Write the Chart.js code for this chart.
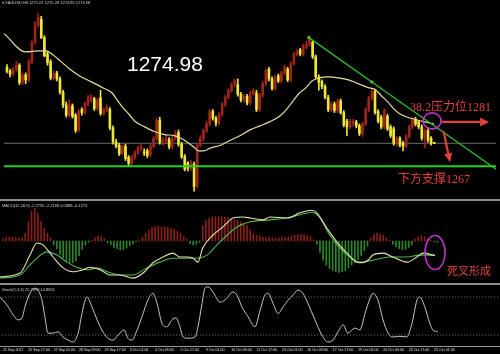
<!DOCTYPE html>
<html><head><meta charset="utf-8">
<script src="https://cdn.jsdelivr.net/npm/chart.js@4.4.0/dist/chart.umd.min.js"></script>
<style>
html,body{margin:0;padding:0;background:#000;width:500px;height:354px;overflow:hidden;position:relative;}
.pane{position:absolute;left:0;width:500px;}
canvas{display:block;}
.sep{position:absolute;left:0;width:500px;height:2px;background:#8c8c8c;}
.t{position:absolute;white-space:nowrap;line-height:1;}
.hdr{font-family:"Liberation Sans",Arial,sans-serif;font-size:4px;color:#d0d0d0;}
.cn{font-family:"Liberation Serif","Noto Sans CJK SC",serif;color:#e4433f;}
</style></head><body>
<div class="pane" style="top:0;height:199px"><canvas id="main" width="500" height="199"></canvas></div>
<div class="sep" style="top:199px"></div>
<div class="pane" style="top:201px;height:82px"><canvas id="macd" width="500" height="82"></canvas></div>
<div class="sep" style="top:283px"></div>
<div class="pane" style="top:285px;height:69px"><canvas id="stoch" width="500" height="69"></canvas></div>

<div class="t hdr" style="left:2px;top:1px">▾ XAUUSD,H4 1275.07 1275.28 1274.85 1274.98</div>
<div class="t hdr" style="left:2px;top:204px">MACD(12,26,9) -2.2755 -2.2168 0.0888 -0.1273</div>
<div class="t hdr" style="left:2px;top:288px">Stoch(5,3,3) 22.7599 14.8651</div>
<div class="t" style="left:127px;top:53px;font-family:'Liberation Sans',Arial,sans-serif;font-size:21px;color:#fff">1274.98</div>
<div class="t cn" style="left:410px;top:101px;font-size:12px">38.2压力位1281</div>
<div class="t cn" style="left:398px;top:173px;font-size:12px">下方支撑1267</div>
<div class="t cn" style="left:447px;top:266px;font-size:11px">死叉形成</div>

<script>
// ---------- DATA ----------
const open = [
1297.8,1296.6,1295.8,1297.2,1298.4,1293.2,1295.5,1294.0,1299.5,1305.3,
1310.5,1312.2,1306.7,1301.8,1299.5,1294.6,1296.1,1294.3,1290.3,1286.5,
1283.4,1286.2,1283.4,1279.0,1285.1,1284.2,1286.8,1288.0,1288.3,1285.4,
1288.6,1283.9,1285.1,1285.1,1279.6,1275.3,1274.4,1272.1,1274.1,1270.7,
1269.0,1270.7,1272.1,1273.3,1272.4,1272.7,1271.6,1274.1,1276.5,1281.9,
1275.3,1275.6,1276.2,1273.9,1276.5,1278.2,1274.7,1271.0,1269.0,1267.5,
1268.7,1262.3,1274.4,1276.5,1278.8,1280.8,1284.5,1282.5,1281.1,1283.7,
1286.5,1288.8,1290.9,1292.6,1292.6,1289.7,1288.0,1289.1,1287.1,1290.0,
1290.0,1285.1,1289.4,1292.9,1297.2,1294.3,1291.4,1295.2,1293.7,1296.1,
1297.2,1294.0,1298.9,1301.8,1303.0,1301.8,1303.8,1304.7,1305.3,1301.0,
1294.9,1293.5,1292.0,1288.8,1285.1,1286.8,1284.8,1287.7,1284.2,1281.6,
1279.9,1280.8,1281.4,1280.2,1277.9,1280.8,1285.1,1288.6,1290.6,1284.5,
1282.8,1279.9,1283.1,1279.9,1279.3,1275.0,1276.5,1275.0,1274.1,1277.0,
1279.9,1282.2,1281.4,1279.9,1276.5,1278.8,1276.5,1275.07];
const high = [
1298.6,1297.2,1297.8,1299.5,1298.9,1296.1,1296.1,1300.1,1305.8,1311.6,
1313.9,1313.1,1307.3,1302.4,1300.1,1296.6,1296.6,1294.9,1290.9,1287.4,
1288.0,1286.8,1283.9,1285.1,1285.7,1287.4,1289.4,1289.7,1288.8,1288.6,
1290.9,1285.7,1286.5,1285.7,1280.2,1276.2,1275.0,1274.4,1274.7,1271.3,
1271.3,1272.7,1274.1,1274.7,1273.3,1273.3,1274.7,1277.0,1282.5,1282.8,
1276.7,1277.3,1276.7,1277.0,1278.8,1279.0,1275.3,1271.6,1269.5,1269.8,
1269.3,1275.0,1277.3,1279.3,1281.6,1285.1,1285.1,1283.1,1284.2,1287.1,
1289.4,1291.4,1293.2,1294.3,1294.3,1290.3,1289.7,1289.7,1290.6,1291.4,
1290.9,1290.0,1293.5,1297.2,1297.8,1294.9,1295.5,1295.8,1296.6,1298.4,
1297.8,1299.5,1302.4,1303.3,1303.5,1304.7,1305.6,1307.3,1305.8,1301.5,
1295.5,1294.0,1292.6,1289.4,1287.4,1287.4,1288.3,1288.3,1284.8,1282.2,
1282.2,1282.2,1281.9,1280.8,1281.4,1285.7,1289.1,1291.2,1291.2,1285.1,
1283.4,1285.4,1283.7,1280.5,1279.9,1277.0,1277.0,1275.6,1277.6,1280.5,
1282.8,1282.8,1281.9,1280.5,1279.3,1279.3,1277.0,1275.28];
const low = [
1296.1,1294.9,1295.2,1296.6,1292.6,1292.6,1292.9,1293.5,1298.9,1304.7,
1309.9,1306.4,1301.0,1298.4,1294.0,1294.0,1293.7,1289.7,1285.7,1282.8,
1282.8,1282.5,1278.2,1278.5,1283.4,1283.7,1286.2,1287.4,1284.8,1284.8,
1283.4,1283.4,1284.5,1279.0,1274.7,1273.6,1271.3,1271.6,1269.8,1268.1,
1268.4,1270.1,1271.6,1272.7,1271.3,1270.7,1271.0,1273.6,1275.9,1274.7,
1274.4,1275.0,1273.3,1273.3,1275.9,1274.1,1270.4,1266.7,1266.7,1266.9,
1260.6,1261.5,1273.9,1275.6,1278.2,1280.2,1281.9,1280.2,1280.5,1283.1,
1286.0,1288.3,1290.3,1292.0,1289.1,1287.4,1287.4,1286.5,1286.5,1289.4,
1284.5,1284.5,1288.8,1292.3,1293.7,1290.9,1290.9,1293.2,1293.2,1295.5,
1293.5,1293.5,1298.4,1301.2,1301.2,1301.2,1303.3,1304.1,1300.4,1294.3,
1290.9,1291.4,1288.3,1284.5,1284.5,1284.2,1284.2,1283.7,1279.9,1277.3,
1279.3,1280.2,1279.6,1277.3,1277.0,1280.2,1284.5,1288.0,1283.7,1281.1,
1279.3,1279.3,1278.8,1276.7,1274.4,1274.1,1273.9,1272.7,1273.6,1276.5,
1279.3,1280.2,1279.3,1275.9,1273.6,1275.3,1274.4,1274.85];
const close = [
1296.6,1295.8,1297.2,1298.4,1293.2,1295.5,1294.0,1299.5,1305.3,1310.5,
1312.8,1306.7,1301.2,1299.2,1294.6,1295.8,1294.3,1290.3,1286.5,1283.4,
1286.8,1283.1,1278.8,1284.5,1284.2,1286.8,1288.6,1288.8,1285.4,1288.0,
1283.9,1285.1,1285.7,1279.6,1275.3,1274.1,1271.8,1273.9,1270.4,1269.0,
1270.7,1272.1,1273.6,1273.9,1272.1,1271.3,1274.1,1276.5,1281.9,1275.3,
1275.9,1276.2,1273.9,1276.5,1277.9,1274.7,1271.0,1267.2,1267.5,1269.0,
1262.0,1274.4,1276.5,1278.8,1280.8,1284.5,1282.5,1281.1,1283.7,1286.5,
1288.8,1290.9,1292.6,1293.7,1289.7,1288.0,1289.1,1287.1,1290.0,1290.9,
1285.1,1289.4,1292.9,1296.6,1294.3,1291.4,1294.9,1293.7,1296.1,1297.8,
1294.0,1298.9,1301.8,1302.4,1301.8,1304.1,1304.7,1306.4,1301.0,1294.9,
1293.2,1292.0,1288.8,1285.1,1286.8,1284.8,1287.7,1284.2,1280.5,1279.9,
1281.6,1281.6,1280.2,1277.9,1280.8,1285.1,1288.6,1290.3,1284.2,1281.6,
1279.9,1284.8,1279.3,1277.3,1275.0,1276.5,1274.4,1274.1,1277.0,1279.9,
1281.9,1280.8,1279.9,1276.5,1278.8,1275.9,1275.0,1274.98];

// moving average
const maIdx = [-0.9,6.0,10.1,12.6,14.8,17.0,20.2,23.3,26.5,30.6,33.8,35.3,36.9,39.1,41.0,44.2,47.3,50.5,53.6,55.8,57.4,59.6,61.5,63.1,65.3,68.5,71.6,74.8,77.9,81.1,84.2,87.4,89.6,91.5,93.7,95.9,97.8,100.0,103.2,106.3,109.5,112.6,115.8,118.0,119.9,122.1,124.3,126.2,128.4,130.6,133.8,136.9];
const maVal = [1307.9,1302.4,1302.7,1302.7,1301.5,1299.8,1297.2,1295.2,1293.7,1291.7,1290.0,1288.0,1286.0,1283.7,1281.6,1279.9,1278.5,1277.6,1277.3,1276.5,1275.6,1274.1,1272.7,1272.7,1273.6,1274.4,1275.9,1277.3,1279.0,1280.2,1281.4,1283.1,1285.1,1287.4,1290.0,1291.7,1293.7,1294.6,1294.9,1294.6,1294.0,1292.9,1291.7,1291.2,1289.4,1287.4,1285.1,1283.7,1282.8,1282.2,1281.4,1280.8];

// levels and trend line
const lastPrice = 1274.98;
const supportLevel = 1268.1;
const trendIdx = [96.8, 117, 156.8];
const trendVal = [1306.7, 1293.4, 1267.2];

// MACD
const hist = [
0.3,0.5,0.6,0.6,0.5,0.4,0.5,1.2,3.0,4.6,
5.1,4.4,3.0,2.0,1.2,0.5,-0.6,-1.2,-2.1,-2.6,
-3.2,-3.4,-3.4,-3.1,-2.3,-1.3,-0.6,-0.2,0.1,0.5,
0.8,0.8,0.4,-0.3,-0.6,-1.0,-1.2,-1.4,-1.3,-1.1,
-0.7,-0.4,-0.1,0.2,0.6,1.2,1.7,2.1,2.2,2.3,
2.2,2.2,2.1,2.0,1.8,1.5,1.2,0.7,0.3,-0.4,
-0.6,-0.5,-0.2,2.4,3.2,3.5,3.7,3.8,3.8,3.75,
3.7,3.6,3.4,3.3,3.2,3.0,2.8,2.5,1.8,1.1,
0.9,0.8,0.6,0.5,0.6,0.5,0.4,0.5,0.6,0.5,
0.6,0.8,0.9,1.0,1.0,1.0,0.9,0.7,0.2,-0.5,
-1.8,-3.0,-3.8,-4.3,-4.6,-4.8,-4.9,-4.8,-4.6,-4.2,
-3.8,-3.4,-2.9,-2.3,-1.5,-0.8,0.5,1.0,1.25,1.1,
0.9,0.5,0.1,-0.5,-0.9,-1.2,-1.4,-1.3,-1.0,-0.6,
0.3,0.6,0.8,0.7,0.4,0.1,-0.1,-0.2];
const difIdx = [-0.9,5.4,8.5,10.7,12.6,15.8,19,22,25.2,27.4,30.6,33.8,36.9,41,44.2,47.3,50.5,53.6,55.8,58,60,61.5,63,66.2,69.4,72.6,75.7,78,82,84.2,89.6,93.7,97.5,99,102.2,105.4,108.5,111.7,113.6,115.1,116.7,119.9,123,127.4,130.6,132.5,136.3];
const difVal = [-5.6,-5.0,-2.2,-0.3,-0.6,-2.5,-4.2,-4.8,-4.5,-4.1,-4.5,-5.3,-5.3,-5.8,-5.0,-3.4,-2.5,-1.9,-2.5,-2.5,-2.7,-3.3,-1.1,0.9,2.2,3.6,3.75,3.6,3.3,3.75,3.6,4.4,4.8,4.4,2.0,-0.2,-1.9,-3.3,-3.4,-3.0,-2.2,-1.9,-2.5,-3.3,-2.5,-1.9,-2.28];
const deaIdx = [-0.9,5.4,8.5,13.9,17,20.2,23.3,26.5,29.7,32.8,36.9,41,45.4,49.5,53.6,58,61.2,64.4,67.5,70.7,73.8,78,84.2,89.6,93.7,97.5,100,103.1,106.3,109.5,112.6,116.7,122.1,127.4,131.5,136.3];
const deaVal = [-5.8,-5.3,-3.75,-1.7,-2.2,-3.3,-4.1,-4.5,-4.2,-4.8,-5.3,-5.3,-4.2,-3.3,-2.7,-2.7,-2.7,-2.2,-0.6,0.9,2.2,3.0,3.3,3.6,4.1,4.5,3.6,0.9,-1.1,-2.5,-3.3,-3.0,-2.5,-2.5,-2.2,-2.22];

// Stochastic
const stochIdx = [-0.9,1.3,3.2,4.7,6,6.9,8.5,10.1,11,12.3,13.2,14.2,15.8,17.4,18.9,20.5,22.1,23.7,24.9,25.9,26.5,28.1,29.7,31.2,33.1,34.7,36.3,38.2,39.4,40.7,42.3,44.2,45.7,47.3,48.6,50.2,51.7,53.3,54.6,55.8,56.8,58.4,60.6,61.5,62.8,63.7,64.7,66.2,68.5,70,72.6,73.8,75.4,77.3,79.5,81.1,82.6,83.6,85.2,86.8,88.3,89.9,91.5,93.1,94.6,96.2,98.4,100.6,102.5,104.1,105.7,107.3,108.8,111,112.6,114.2,115.8,116.7,118.3,119.9,121.5,123,125.2,127.4,129,130.6,131.5,133.1,134.7,135.6,137.2];
const stochVal = [80,67,52,44,47,64,86,94,91,75,49,23,23,25,17,12,9,23,54,75,80,64,44,28,15,12,20,28,15,12,28,54,75,86,70,38,33,44,47,33,17,15,17,33,70,94,96,88,72,75,88,83,64,49,33,59,83,86,70,54,64,75,83,91,86,70,44,20,9,12,25,36,23,31,28,54,78,86,75,44,23,17,18,17,38,75,80,64,38,28,25];
const stochLevels = [20, 80];

// time axis labels
const dateIdx = [0,8,16,24,32,40,48,56,64,72,80,88,96,104,112,120,128,136];
const dateLabels = ["22 Sep 2017","25 Sep 17:00","27 Sep 01:00","28 Sep 09:00","29 Sep 17:00","3 Oct 01:00","4 Oct 09:00","5 Oct 17:00","9 Oct 01:00","10 Oct 09:00","11 Oct 17:00","13 Oct 01:00","16 Oct 09:00","17 Oct 17:00","19 Oct 01:00","20 Oct 09:00","23 Oct 17:00","25 Oct 01:00"];

// annotation anchors (data units)
const ringMain = {x:136.3, y:1281.7};
const arrowRight = {x1:139.4, y1:1281.4, x2:154.6, y2:1281.4};
const arrowDown = {x1:140.0, y1:1278.5, x2:142.05, y2:1269.3};
const ringMacd = {x:136.3, y:-1.8};

// ---------- RENDER ----------
const X_MIN = -0.95, X_MAX = 156.8;
const RED = '#a2231a', YEL = '#efe63a';
const bars = open.map((_, i) => i);
const pts = (xs, ys) => xs.map((x, k) => ({x, y: ys[k]}));
const candleColor = c => close[c.dataIndex] >= open[c.dataIndex] ? RED : YEL;

const base = {
  responsive:false, animation:false, devicePixelRatio:1, events:[],
  layout:{padding:0},
  plugins:{legend:{display:false}, tooltip:{enabled:false}}
};
const xHidden = {type:'linear', min:X_MIN, max:X_MAX, display:false, offset:false};

function arrow(ctx, x1, y1, x2, y2, color, w, hl, hw) {
  const a = Math.atan2(y2 - y1, x2 - x1);
  const bx = x2 - hl * Math.cos(a), by = y2 - hl * Math.sin(a);
  ctx.save();
  ctx.strokeStyle = color; ctx.fillStyle = color; ctx.lineWidth = w;
  ctx.beginPath(); ctx.moveTo(x1, y1); ctx.lineTo(bx, by); ctx.stroke();
  ctx.beginPath(); ctx.moveTo(x2, y2);
  ctx.lineTo(bx + hw * Math.sin(a), by - hw * Math.cos(a));
  ctx.lineTo(bx - hw * Math.sin(a), by + hw * Math.cos(a));
  ctx.closePath(); ctx.fill();
  ctx.restore();
}
function ring(ctx, cx, cy, rx, ry, color) {
  ctx.save(); ctx.strokeStyle = color; ctx.lineWidth = 1.6;
  ctx.beginPath(); ctx.ellipse(cx, cy, rx, ry, 0, 0, Math.PI * 2); ctx.stroke(); ctx.restore();
}

const annotMain = {
  id:'annotMain',
  afterDatasetsDraw(chart) {
    const {ctx, scales:{x, y}} = chart;
    ring(ctx, x.getPixelForValue(ringMain.x), y.getPixelForValue(ringMain.y), 9, 8, '#c234c8');
    arrow(ctx, x.getPixelForValue(arrowRight.x1), y.getPixelForValue(arrowRight.y1),
               x.getPixelForValue(arrowRight.x2), y.getPixelForValue(arrowRight.y2), '#e6403c', 2.2, 9, 4.5);
    arrow(ctx, x.getPixelForValue(arrowDown.x1), y.getPixelForValue(arrowDown.y1),
               x.getPixelForValue(arrowDown.x2), y.getPixelForValue(arrowDown.y2), '#e6403c', 2.2, 9, 4);
  }
};
const annotMacd = {
  id:'annotMacd',
  afterDatasetsDraw(chart) {
    const {ctx, scales:{x, y}} = chart;
    ring(ctx, x.getPixelForValue(ringMacd.x), y.getPixelForValue(ringMacd.y), 10, 17, '#c234c8');
  }
};

new Chart(document.getElementById('main'), {
  type:'bar',
  data:{datasets:[
    {type:'line', data:pts([-5, 170],[lastPrice,lastPrice]), borderColor:'#6c6c6c', borderWidth:1, pointRadius:0, order:10},
    {type:'bar', data:bars.map(i => ({x:i, y:[low[i], high[i]]})), backgroundColor:candleColor, barThickness:1, grouped:false, borderWidth:0, order:6},
    {type:'bar', data:bars.map(i => ({x:i, y:[open[i], close[i]]})), backgroundColor:candleColor, barThickness:2, grouped:false, borderWidth:0, minBarLength:1, order:5},
    {type:'line', data:pts(maIdx, maVal), borderColor:'#e6dd98', borderWidth:1.2, pointRadius:0, cubicInterpolationMode:'monotone', order:3},
    {type:'line', data:pts(trendIdx, trendVal), borderColor:'#2ec02e', borderWidth:1.3, pointRadius:[1.6,1.6,0], pointBackgroundColor:'#3ad03a', pointBorderWidth:0, order:2},
    {type:'line', data:pts([-5, 170],[supportLevel,supportLevel]), borderColor:'#1ed21e', borderWidth:2, pointRadius:0, order:1}
  ]},
  options:{...base, scales:{x:xHidden, y:{min:1259.45, max:1316.8, display:false}}},
  plugins:[annotMain]
});

new Chart(document.getElementById('macd'), {
  type:'bar',
  data:{datasets:[
    {type:'bar', data:bars.map(i => ({x:i, y:hist[i]})), backgroundColor:c => hist[c.dataIndex] >= 0 ? '#8c1e18' : '#2c862c', barThickness:1, grouped:false, borderWidth:0, order:5},
    {type:'line', data:pts(deaIdx, deaVal), borderColor:'#4cb84c', borderWidth:1.1, pointRadius:0, cubicInterpolationMode:'monotone', order:2},
    {type:'line', data:pts(difIdx, difVal), borderColor:'#e8e6b0', borderWidth:1.1, pointRadius:0, cubicInterpolationMode:'monotone', order:1}
  ]},
  options:{...base, scales:{x:xHidden, y:{min:-6.56, max:6.25, display:false}}},
  plugins:[annotMacd]
});

new Chart(document.getElementById('stoch'), {
  type:'line',
  data:{datasets:[
    {data:pts([-5, 170],[stochLevels[1],stochLevels[1]]), borderColor:'#777', borderWidth:1, borderDash:[1,2], pointRadius:0},
    {data:pts([-5, 170],[stochLevels[0],stochLevels[0]]), borderColor:'#777', borderWidth:1, borderDash:[1,2], pointRadius:0},
    {data:pts(stochIdx, stochVal), borderColor:'#c8c8c8', borderWidth:1, pointRadius:0, cubicInterpolationMode:'monotone'}
  ]},
  options:{...base, scales:{
    x:{type:'linear', min:X_MIN, max:X_MAX, offset:false,
       grid:{display:false, drawTicks:false, tickLength:0}, border:{display:true, color:'#9a9a9a', width:1},
       afterBuildTicks:s => { s.ticks = dateIdx.map(v => ({value:v})); },
       afterFit:s => { s.height = 8; },
       ticks:{autoSkip:false, maxRotation:0, minRotation:0, align:'start', padding:2,
              color:'#e0e0e0', font:{size:3.6, family:'Liberation Sans'},
              callback:(v, k) => dateLabels[k]}},
    y:{min:2.7, max:99.0, display:false}
  }}
});
</script>
</body></html>
